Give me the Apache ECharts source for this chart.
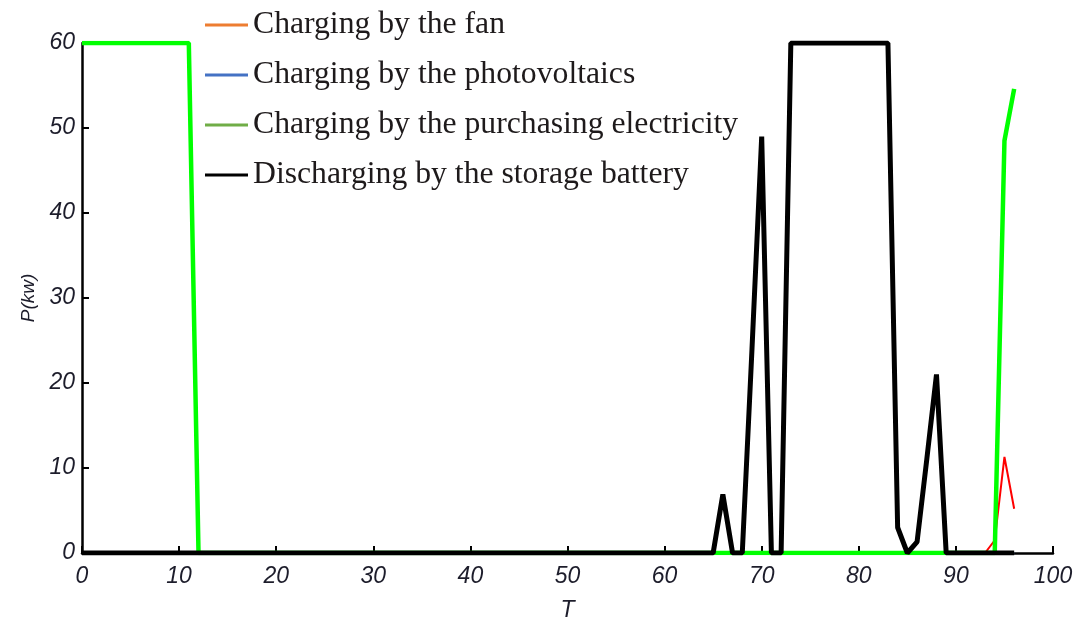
<!DOCTYPE html>
<html>
<head>
<meta charset="utf-8">
<script src="https://cdn.jsdelivr.net/npm/echarts@6/dist/echarts.min.js"></script>
<style>
  html, body { margin: 0; padding: 0; background: #fff; }
  #chart { width: 1080px; height: 617px; }
</style>
</head>
<body>
<div id="chart"></div>
<script>
// legend names
let seriesNames = [
    'Charging by the fan',
    'Charging by the photovoltaics',
    'Charging by the purchasing electricity',
    'Discharging by the storage battery'
];

// power (kW) at each time slot T = 0..96
let fanPower = [
    0, 0, 0, 0, 0, 0, 0, 0, 0, 0, 0, 0, 0, 0, 0, 0, 0, 0, 0, 0,
    0, 0, 0, 0, 0, 0, 0, 0, 0, 0, 0, 0, 0, 0, 0, 0, 0, 0, 0, 0,
    0, 0, 0, 0, 0, 0, 0, 0, 0, 0, 0, 0, 0, 0, 0, 0, 0, 0, 0, 0,
    0, 0, 0, 0, 0, 0, 0, 0, 0, 0, 0, 0, 0, 0, 0, 0, 0, 0, 0, 0,
    0, 0, 0, 0, 0, 0, 0, 0, 0, 0, 0, 0, 0, 0, 1.5, 11.3, 5.2
];
let pvPower = [
    0, 0, 0, 0, 0, 0, 0, 0, 0, 0, 0, 0, 0, 0, 0, 0, 0, 0, 0, 0,
    0, 0, 0, 0, 0, 0, 0, 0, 0, 0, 0, 0, 0, 0, 0, 0, 0, 0, 0, 0,
    0, 0, 0, 0, 0, 0, 0, 0, 0, 0, 0, 0, 0, 0, 0, 0, 0, 0, 0, 0,
    0, 0, 0, 0, 0, 0, 0, 0, 0, 0, 0, 0, 0, 0, 0, 0, 0, 0, 0, 0,
    0, 0, 0, 0, 0, 0, 0, 0, 0, 0, 0, 0, 0, 0, 0, 0, 0
];
let gridPower = [
    60, 60, 60, 60, 60, 60, 60, 60, 60, 60, 60, 60, 0, 0, 0, 0, 0, 0, 0, 0,
    0, 0, 0, 0, 0, 0, 0, 0, 0, 0, 0, 0, 0, 0, 0, 0, 0, 0, 0, 0,
    0, 0, 0, 0, 0, 0, 0, 0, 0, 0, 0, 0, 0, 0, 0, 0, 0, 0, 0, 0,
    0, 0, 0, 0, 0, 0, 0, 0, 0, 0, 0, 0, 0, 0, 0, 0, 0, 0, 0, 0,
    0, 0, 0, 0, 0, 0, 0, 0, 0, 0, 0, 0, 0, 0, 0, 48.5, 54.6
];
let batteryPower = [
    0, 0, 0, 0, 0, 0, 0, 0, 0, 0, 0, 0, 0, 0, 0, 0, 0, 0, 0, 0,
    0, 0, 0, 0, 0, 0, 0, 0, 0, 0, 0, 0, 0, 0, 0, 0, 0, 0, 0, 0,
    0, 0, 0, 0, 0, 0, 0, 0, 0, 0, 0, 0, 0, 0, 0, 0, 0, 0, 0, 0,
    0, 0, 0, 0, 0, 0, 6.9, 0, 0, 24, 49, 0, 0, 60, 60, 60, 60, 60, 60, 60,
    60, 60, 60, 60, 3, 0, 1.3, 11, 21, 0, 0, 0, 0, 0, 0, 0, 0
];

let lineColors = ['#ff0000', '#4472c4', '#00ff00', '#000000'];
let legendColors = ['#ed7d31', '#4472c4', '#70ad47', '#000000'];
let lineWidths = [2, 2, 4.5, 5];

let chart = echarts.init(document.getElementById('chart'), null, { renderer: 'canvas' });

// pair each value with its time slot
function toPoints(values) {
    let pts = [];
    for (let i = 0; i < values.length; i++) {
        pts.push([i, values[i]]);
    }
    return pts;
}

let allValues = [fanPower, pvPower, gridPower, batteryPower];

let series = [];
for (let k = 0; k < seriesNames.length; k++) {
    series.push({
        name: seriesNames[k],
        type: 'line',
        data: toPoints(allValues[k]),
        showSymbol: false,
        symbol: 'none',
        color: lineColors[k],
        lineStyle: { color: lineColors[k], width: lineWidths[k] },
        z: 2 + k
    });
}

let axisLabelStyle = {
    color: '#1d1d2b',
    fontFamily: 'Liberation Sans',
    fontStyle: 'italic',
    fontSize: 23
};

let option = {
    animation: false,
    backgroundColor: '#ffffff',
    grid: { left: 82, right: 27, top: 43, bottom: 64, containLabel: false, outerBoundsMode: 'none' },
    legend: {
        orient: 'vertical',
        left: 200,
        top: 3,
        itemWidth: 43,
        itemHeight: 3,
        itemGap: 16,
        icon: 'rect',
        selectedMode: false,
        textStyle: {
            fontFamily: 'Liberation Serif',
            fontSize: 31.7,
            lineHeight: 34,
            color: '#1e1a1b'
        },
        data: seriesNames.map(function (n, i) {
            return { name: n, itemStyle: { color: legendColors[i] } };
        })
    },
    xAxis: {
        type: 'value',
        min: 0,
        max: 100,
        interval: 10,
        name: 'T',
        nameLocation: 'middle',
        nameGap: 46,
        nameTextStyle: axisLabelStyle,
        splitLine: { show: false },
        axisLine: { show: true, onZero: false, lineStyle: { color: '#000', width: 2.5 } },
        axisTick: { show: true, inside: true, length: 7, lineStyle: { color: '#000', width: 2 } },
        axisLabel: Object.assign({ margin: 12 }, axisLabelStyle)
    },
    yAxis: {
        type: 'value',
        min: 0,
        max: 60,
        interval: 10,
        name: 'P(kw)',
        nameLocation: 'middle',
        nameGap: 44,
        nameRotate: 90,
        nameTextStyle: Object.assign({}, axisLabelStyle, { fontSize: 19 }),
        splitLine: { show: false },
        axisLine: { show: true, lineStyle: { color: '#000', width: 2.5 } },
        axisTick: { show: true, inside: true, length: 7, lineStyle: { color: '#000', width: 2 } },
        axisLabel: Object.assign({ margin: 7 }, axisLabelStyle)
    },
    series: series
};

chart.setOption(option);
</script>
</body>
</html>
